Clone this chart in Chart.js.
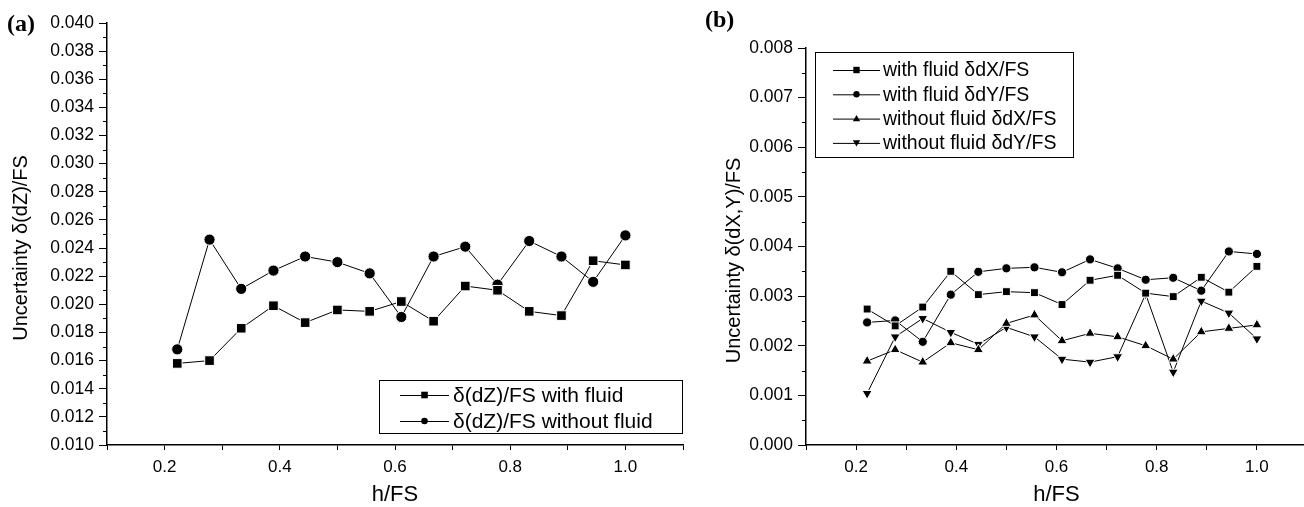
<!DOCTYPE html>
<html>
<head>
<meta charset="utf-8">
<script src="https://cdn.jsdelivr.net/npm/chart.js@4.4.0/dist/chart.umd.min.js"></script>
<style>
  body { margin: 0; width: 1304px; height: 507px; overflow: hidden; background: #fff; position: relative; }
  #ca { position: absolute; left: 0; top: 0; }
  #cb { position: absolute; left: 700px; top: 0; }
  .tag { position: absolute; font-family: "Liberation Serif", "Times New Roman", serif; font-weight: bold; font-size: 24px; line-height: 24px; color: #000; }
</style>
</head>
<body>
<canvas id="ca" width="700" height="507"></canvas>
<canvas id="cb" width="614" height="507"></canvas>
<div class="tag" style="left:7px;top:11px">(a)</div>
<div class="tag" style="left:705px;top:7px">(b)</div>
<script>
// h/FS positions shared by both panels
var hfs = [0.222, 0.278, 0.333, 0.389, 0.444, 0.5, 0.556, 0.611, 0.667, 0.722, 0.778, 0.833, 0.889, 0.944, 1.0];

// panel (a)
var dzWith    = [0.0158, 0.0160, 0.0183, 0.0199, 0.0187, 0.0196, 0.0195, 0.0202, 0.0188, 0.0213, 0.0210, 0.0195, 0.0192, 0.0231, 0.0228];
var dzWithout = [0.0168, 0.0246, 0.0211, 0.0224, 0.0234, 0.0230, 0.0222, 0.0191, 0.0234, 0.0241, 0.0214, 0.0245, 0.0234, 0.0216, 0.0249];
var labelsA = ['\u03b4(dZ)/FS with fluid', '\u03b4(dZ)/FS without fluid'];

// panel (b)
var dxWith    = [0.00274, 0.00240, 0.00278, 0.00350, 0.00303, 0.00309, 0.00307, 0.00283, 0.00332, 0.00342, 0.00306, 0.00299, 0.00338, 0.00308, 0.00360];
var dyWith    = [0.00247, 0.00251, 0.00208, 0.00303, 0.00349, 0.00356, 0.00358, 0.00348, 0.00374, 0.00356, 0.00333, 0.00337, 0.00311, 0.00390, 0.00385];
var dxWithout = [0.00169, 0.00192, 0.00167, 0.00206, 0.00192, 0.00245, 0.00262, 0.00210, 0.00225, 0.00218, 0.00200, 0.00173, 0.00228, 0.00235, 0.00242];
var dyWithout = [0.00104, 0.00218, 0.00255, 0.00227, 0.00203, 0.00237, 0.00218, 0.00173, 0.00167, 0.00178, 0.00304, 0.00147, 0.00290, 0.00266, 0.00214];
var labelsB = ['with fluid \u03b4dX/FS', 'with fluid \u03b4dY/FS', 'without fluid \u03b4dX/FS', 'without fluid \u03b4dY/FS'];

var FONT = '"Liberation Sans", Arial, sans-serif';
var PAD5 = '\u00a0\u00a0\u00a0\u00a0\u00a0'; // nudges the rotated title down a little, as in the original

function pts(ys) {
  return ys.map(function (v, i) { return { x: hfs[i], y: v }; });
}

function series(label, ys, style, r, rot) {
  return {
    label: label,
    data: pts(ys),
    borderColor: '#000',
    borderWidth: 1,
    pointStyle: style,
    pointRotation: rot || 0,
    pointRadius: r,
    pointBackgroundColor: '#000',
    pointBorderColor: '#fff',
    pointBorderWidth: 1,
    tension: 0
  };
}

// short ticks between the labelled ones on the y axis
var minorTicks = {
  id: 'minorTicks',
  afterDraw: function (chart) {
    var s = chart.scales.y, ctx = chart.ctx;
    ctx.save();
    ctx.strokeStyle = '#000';
    ctx.lineWidth = 1;
    s.ticks.forEach(function (t, i) {
      if (i % 2 === 0) return;
      var py = Math.round(s.getPixelForValue(t.value)) + 0.5;
      ctx.beginPath();
      ctx.moveTo(s.right - 4, py);
      ctx.lineTo(s.right, py);
      ctx.stroke();
    });
    ctx.restore();
  }
};

function marker(ctx, style, rot, x, y, r) {
  ctx.beginPath();
  if (style === 'rect') {
    ctx.rect(x - r, y - r, 2 * r, 2 * r);
  } else if (style === 'circle') {
    ctx.arc(x, y, r, 0, Math.PI * 2);
  } else {
    var d = rot ? -1 : 1;
    ctx.moveTo(x, y - d * r * 1.1);
    ctx.lineTo(x + r * 1.15, y + d * r * 0.85);
    ctx.lineTo(x - r * 1.15, y + d * r * 0.85);
    ctx.closePath();
  }
  ctx.fill();
}

// framed legend inside the plot, Origin style
var boxLegend = {
  id: 'boxLegend',
  afterDraw: function (chart, args, o) {
    var ctx = chart.ctx;
    ctx.save();
    ctx.strokeStyle = '#000';
    ctx.fillStyle = '#000';
    ctx.lineWidth = 1;
    ctx.strokeRect(o.x + 0.5, o.y + 0.5, o.w, o.h);
    ctx.font = o.size + 'px ' + FONT;
    ctx.textBaseline = 'middle';
    chart.data.datasets.forEach(function (ds, i) {
      var y = o.y + o.first + i * o.gap;
      ctx.beginPath();
      ctx.moveTo(o.x + o.l0, y + 0.5);
      ctx.lineTo(o.x + o.l1, y + 0.5);
      ctx.stroke();
      marker(ctx, ds.pointStyle, ds.pointRotation, o.x + (o.l0 + o.l1) / 2, y, o.r);
      ctx.fillText(ds.label, o.x + o.tx, y + 1);
    });
    ctx.restore();
  }
};

function options(cfg) {
  return {
    responsive: false,
    animation: false,
    layout: { padding: cfg.pad },
    plugins: {
      legend: { display: false },
      tooltip: { enabled: false },
      boxLegend: cfg.legend
    },
    scales: {
      x: {
        type: 'linear',
        min: 0.1,
        max: 1.1,
        afterFit: function (s) { s.height = cfg.xh; },
        border: { display: true, color: '#000', width: 1.5 },
        grid: { drawOnChartArea: false, drawTicks: true, tickLength: 5, color: '#000' },
        ticks: {
          stepSize: 0.1,
          autoSkip: false,
          maxRotation: 0,
          padding: 7,
          color: '#000',
          font: { family: FONT, size: 17 },
          callback: function (v) { return Math.round(v * 10) % 2 === 0 ? v.toFixed(1) : ''; }
        },
        title: { display: true, text: 'h/FS', color: '#000', font: { family: FONT, size: 22 }, padding: { top: 0, bottom: -1 } }
      },
      y: {
        min: cfg.ymin,
        max: cfg.ymax,
        afterFit: function (s) { s.width = cfg.yw; },
        border: { display: true, color: '#000', width: 1.5 },
        grid: {
          drawOnChartArea: false,
          drawTicks: true,
          tickLength: 8,
          tickColor: function (c) { return c.index % 2 === 0 ? '#000' : 'rgba(0,0,0,0)'; }
        },
        ticks: {
          stepSize: cfg.ystep,
          autoSkip: false,
          padding: 5,
          color: '#000',
          font: { family: FONT, size: 17.5 },
          callback: function (v, i) { return i % 2 === 0 ? v.toFixed(3) : ''; }
        },
        title: { display: true, text: cfg.ytitle + PAD5, color: '#000', font: { family: FONT, size: 20 }, padding: { top: cfg.ytpad, bottom: 0 } }
      }
    }
  };
}

new Chart(document.getElementById('ca'), {
  type: 'line',
  data: {
    datasets: [
      series(labelsA[0], dzWith, 'rect', 6.8),
      series(labelsA[1], dzWithout, 'circle', 5.6)
    ]
  },
  options: options({
    pad: { top: 23, right: 17, left: 0, bottom: 0 },
    xh: 62, yw: 107,
    ymin: 0.010, ymax: 0.040, ystep: 0.001,
    ytitle: 'Uncertainty \u03b4(dZ)/FS',
    ytpad: 9,
    legend: { x: 379, y: 380, w: 303, h: 53, first: 15, gap: 26, l0: 21, l1: 70, r: 3.3, tx: 74, size: 21 }
  }),
  plugins: [minorTicks, boxLegend]
});

new Chart(document.getElementById('cb'), {
  type: 'line',
  data: {
    datasets: [
      series(labelsB[0], dxWith, 'rect', 5.6),
      series(labelsB[1], dyWith, 'circle', 4.6),
      series(labelsB[2], dxWithout, 'triangle', 5.8),
      series(labelsB[3], dyWithout, 'triangle', 5.8, 180)
    ]
  },
  options: options({
    pad: { top: 48, right: 0, left: 0, bottom: 0 },
    xh: 62, yw: 106,
    ymin: 0, ymax: 0.008, ystep: 0.0005,
    ytitle: 'Uncertainty \u03b4(dX,Y)/FS',
    ytpad: 22,
    legend: { x: 115, y: 52, w: 258, h: 105, first: 18, gap: 24.3, l0: 18, l1: 65, r: 3.2, tx: 68, size: 19.5 }
  }),
  plugins: [minorTicks, boxLegend]
});
</script>
</body>
</html>
